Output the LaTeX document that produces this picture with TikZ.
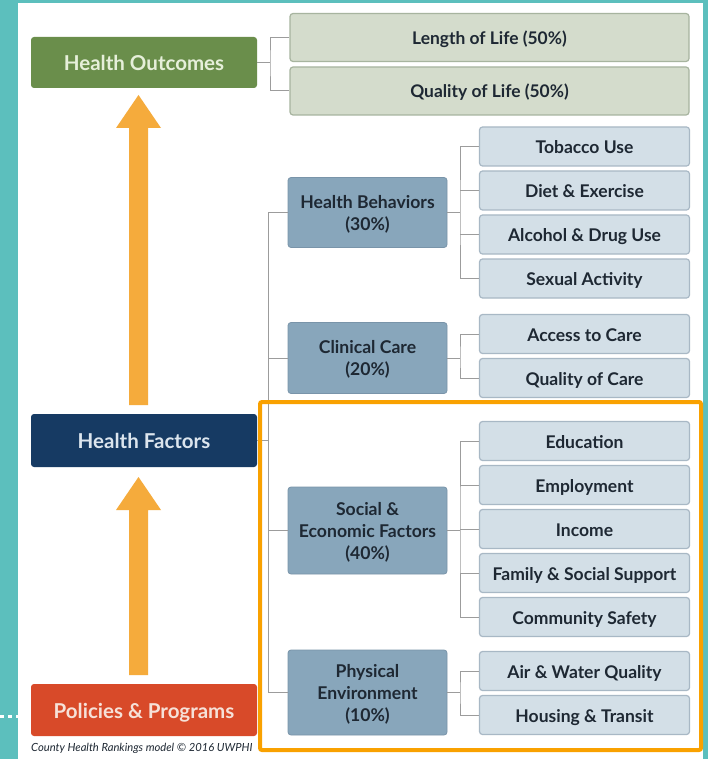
\documentclass[tikz,border=0pt]{standalone}
\usepackage{fontspec}
\setmainfont{Lato}
\usetikzlibrary{arrows.meta}
\definecolor{tealbg}{HTML}{5CBFBD}
\definecolor{outgreen}{HTML}{6A8E4B}
\definecolor{outtext}{HTML}{E6EFDA}
\definecolor{lgfill}{HTML}{D4DCCC}
\definecolor{lgdraw}{HTML}{A7B49F}
\definecolor{navy}{HTML}{163A63}
\definecolor{navytext}{HTML}{DCE5EE}
\definecolor{polred}{HTML}{D84A29}
\definecolor{poltext}{HTML}{F6E1D8}
\definecolor{midblue}{HTML}{88A6BB}
\definecolor{middraw}{HTML}{7994A9}
\definecolor{lbfill}{HTML}{D3DFE7}
\definecolor{lbdraw}{HTML}{A8B8C5}
\definecolor{darktext}{HTML}{1E2833}
\definecolor{arroworange}{HTML}{F5AB3C}
\definecolor{hlorange}{HTML}{F9A100}
\definecolor{conn}{HTML}{9C9C9C}
\tikzset{
  x=1pt, y=-1pt,
  box/.style={rounded corners=3pt, inner sep=0pt, align=center, text depth=0pt, font=\bfseries},
  topbox/.style={box, text height=16pt, minimum width=226pt, minimum height=51pt, font=\bfseries\fontsize{20.5}{24}\selectfont},
  outleaf/.style={box, text height=14pt, fill=lgfill, draw=lgdraw, line width=1.2pt, minimum width=399pt, minimum height=48pt, text=darktext, font=\bfseries\fontsize{17.4}{20}\selectfont},
  midbox/.style={box, fill=midblue, draw=middraw, line width=0.8pt, minimum width=159pt, text=darktext, font=\bfseries\fontsize{17.6}{22}\selectfont},
  leafbox/.style={box, text height=14pt, fill=lbfill, draw=lbdraw, line width=1.2pt, minimum width=210pt, minimum height=39pt, text=darktext, font=\bfseries\fontsize{17.5}{20}\selectfont},
  link/.style={draw=conn, line width=1pt},
  bigarrow/.style={draw=none, fill=arroworange},
}
\begin{document}
\begin{tikzpicture}
\useasboundingbox (0,0) rectangle (708,759);
% background
\fill[tealbg] (0,0) rectangle (708,759);
\fill[white] (18,3) rectangle (703,759);
\draw[white, line width=3pt, dash pattern=on 4pt off 4pt] (0,716) -- (18,716);

% left column
\node[topbox, fill=outgreen, text=outtext] (ho) at (144,62.5) {Health Outcomes};
\node[topbox, fill=navy, text=navytext, minimum height=53pt] (hf) at (144,440.5) {Health Factors};
\node[topbox, fill=polred, text=poltext, minimum height=52pt] (pp) at (144,710) {Policies \& Programs};
\node[anchor=west, inner sep=0pt, text=darktext, font=\itshape\fontsize{11.2}{13}\selectfont] (cap) at (31,748) {County Health Rankings model © 2016 UWPHI};

% arrows
\fill[bigarrow] (129,405) -- (129,128) -- (116,128) -- (138.5,95) -- (161,128) -- (148,128) -- (148,405) -- cycle;
\fill[bigarrow] (129,675) -- (129,510) -- (116,510) -- (138.5,477) -- (161,510) -- (148,510) -- (148,675) -- cycle;

% outcomes
\node[outleaf] (ll) at (489.5,37.5) {Length of Life (50\%)};
\node[outleaf] (ql) at (489.5,91) {Quality of Life (50\%)};

% mid boxes
\node[midbox, minimum height=70pt] (hb) at (367.5,212.5) {Health Behaviors\\(30\%)};
\node[midbox, minimum height=71pt] (cc) at (367.5,358) {Clinical Care\\(20\%)};
\node[midbox, minimum height=87pt] (se) at (367.5,530.5) {Social \&\\Economic Factors\\(40\%)};
\node[midbox, minimum height=85pt] (pe) at (367.5,692.5) {Physical\\Environment\\(10\%)};

% leaves
\node[leafbox] (l1) at (584.5,146.5) {Tobacco Use};
\node[leafbox] (l2) at (584.5,190.5) {Diet \& Exercise};
\node[leafbox] (l3) at (584.5,234.5) {Alcohol \& Drug Use};
\node[leafbox] (l4) at (584.5,278.5) {Sexual Activity};
\node[leafbox] (l5) at (584.5,334) {Access to Care};
\node[leafbox] (l6) at (584.5,378) {Quality of Care};
\node[leafbox] (l7) at (584.5,441) {Education};
\node[leafbox] (l8) at (584.5,485) {Employment};
\node[leafbox] (l9) at (584.5,529) {Income};
\node[leafbox] (l10) at (584.5,573) {Family \& Social Support};
\node[leafbox] (l11) at (584.5,617) {Community Safety};
\node[leafbox] (l12) at (584.5,671) {Air \& Water Quality};
\node[leafbox] (l13) at (584.5,715) {Housing \& Transit};

% connectors: outcomes
\coordinate (ob) at (270,62.5);
\draw[link] (ho.east) -- (ob);
\draw[link] (ll.west) -| (ob) |- (ql.west);

% connectors: factors trunk
\coordinate (tr) at (268,440.5);
\draw[link] (hf.east) -- (tr);
\draw[link] (hb.west) -| (tr);
\draw[link] (tr) |- (pe.west);
\draw[link] (cc.west) -- (cc.west -| tr);
\draw[link] (se.west) -- (se.west -| tr);

% connectors: leaf brackets
\coordinate (b1) at (460,212.5);
\draw[link] (hb.east) -- (b1);
\draw[link] (l1.west) -| (b1) |- (l4.west);
\draw[link] (l2.west) -- (l2.west -| b1);
\draw[link] (l3.west) -- (l3.west -| b1);

\coordinate (b2) at (460,358);
\draw[link] (cc.east) -- (b2);
\draw[link] (l5.west) -| (b2) |- (l6.west);

\coordinate (b3) at (460,530.5);
\draw[link] (se.east) -- (b3);
\draw[link] (l7.west) -| (b3) |- (l11.west);
\draw[link] (l8.west) -- (l8.west -| b3);
\draw[link] (l9.west) -- (l9.west -| b3);
\draw[link] (l10.west) -- (l10.west -| b3);

\coordinate (b4) at (460,692.5);
\draw[link] (pe.east) -- (b4);
\draw[link] (l12.west) -| (b4) |- (l13.west);

% highlight frame
\draw[hlorange, line width=4pt, rounded corners=2pt] (260,402) rectangle (701,750);
\end{tikzpicture}
\end{document}
